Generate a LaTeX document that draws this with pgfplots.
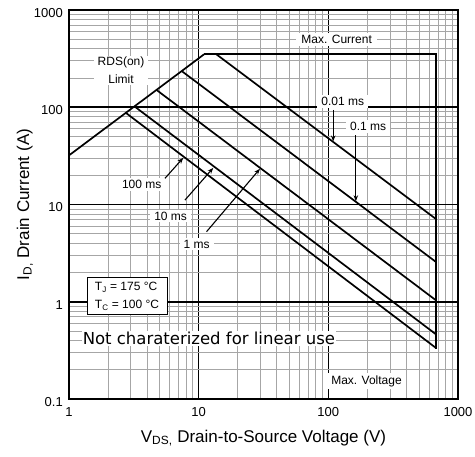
\documentclass[border=0pt]{standalone}
\usepackage{pgfplots}
\pgfplotsset{compat=1.18}
\usetikzlibrary{arrows.meta}
\usepackage{fontspec}
\setmainfont{Liberation Sans}
\newfontfamily\dejavu{DejaVu Sans}
\tikzset{curve/.style={black, solid, line width=1.7pt, mark=none}}
\begin{document}
\begin{tikzpicture}
\useasboundingbox (-69pt,-58pt) rectangle (406pt,399pt);
\begin{axis}[
  at={(0,0)}, anchor=south west,
  scale only axis, width=389pt, height=389pt,
  xmode=log, ymode=log,
  xmin=1, xmax=1000, ymin=0.1, ymax=1000,
  xtick={1,10,100,1000}, xticklabels={1,10,100,1000},
  ytick={0.1,1,10,100,1000}, yticklabels={0.1,1,10,100,1000},
  minor xtick={2,3,4,5,6,7,8,9,20,30,40,50,60,70,80,90,200,300,400,500,600,700,800,900},
  minor ytick={0.2,0.3,0.4,0.5,0.6,0.7,0.8,0.9,2,3,4,5,6,7,8,9,20,30,40,50,60,70,80,90,200,300,400,500,600,700,800,900},
  grid=both,
  major grid style={black, line width=1.6pt},
  minor grid style={black!35, line width=0.8pt},
  major tick length=0pt, minor tick length=0pt,
  axis line style={black, line width=1.5pt},
  ticklabel style={font=\fontsize{13}{15}\selectfont},
  xticklabel style={anchor=center, yshift=-13pt},
  yticklabel style={anchor=east, xshift=-2.7pt, yshift=-3pt},
  xlabel={V\textsubscript{DS,} Drain-to-Source Voltage (V)},
  ylabel={I\textsubscript{D,} Drain Current (A)},
  xlabel style={font=\fontsize{17}{20}\selectfont, at={(axis description cs:0.5,-0.1)}, anchor=center},
  ylabel style={font=\fontsize{17}{20}\selectfont, at={(axis description cs:-0.113,0.5)}, anchor=center},
]
% RDS(on) limit
\addplot[curve] coordinates {(1,32) (11,350)};
% Max current and max voltage
\addplot[curve] coordinates {(11,350) (680,350) (680,0.33)};
% 0.01 ms
\addplot[curve] coordinates {(13.7,350) (680,7.05)};
% 0.1 ms
\addplot[curve] coordinates {(7.39,236) (680,2.55)};
% 1 ms
\addplot[curve] coordinates {(4.72,151) (680,1.03)};
% 10 ms
\addplot[curve] coordinates {(3.2,102) (680,0.46)};
% 100 ms
\addplot[curve] coordinates {(2.74,87.7) (680,0.333)};

% arrows
\draw[-{Stealth[length=6pt,width=4.5pt]}, line width=1.1pt] (axis cs:5.5,18.6) -- (axis cs:7.61,30.2);
\draw[-{Stealth[length=6pt,width=4.5pt]}, line width=1.1pt] (axis cs:7.84,11.1) -- (axis cs:12.96,23.8);
\draw[-{Stealth[length=6pt,width=4.5pt]}, line width=1.1pt] (axis cs:11.5,5.25) -- (axis cs:29.7,23.3);
\draw[-{Stealth[length=6pt,width=4.5pt]}, line width=1.1pt] (axis cs:109,93.7) -- (axis cs:109,44.5);
\draw[-{Stealth[length=6pt,width=4.5pt]}, line width=1.1pt] (axis cs:163,51.8) -- (axis cs:163,10.8);

% labels
\node[fill=white, inner xsep=4pt, inner ysep=1pt, font=\fontsize{12}{17.6}\selectfont, align=center] at (axis cs:2.52,239) {RDS(on)\\Limit};
\node[fill=white, inner xsep=5pt, inner ysep=2pt, font=\fontsize{12}{14}\selectfont] at (axis cs:116,500) {Max. Current};
\node[fill=white, inner xsep=4pt, inner ysep=2pt, font=\fontsize{12}{14}\selectfont] at (axis cs:129,114) {0.01 ms};
\node[fill=white, inner xsep=4pt, inner ysep=2pt, font=\fontsize{12}{14}\selectfont] at (axis cs:203,63.1) {0.1 ms};
\node[fill=white, inner xsep=3pt, inner ysep=2pt, font=\fontsize{12}{14}\selectfont] at (axis cs:3.64,16.1) {100 ms};
\node[fill=white, inner xsep=4pt, inner ysep=2pt, font=\fontsize{12}{14}\selectfont] at (axis cs:6.08,7.62) {10 ms};
\node[fill=white, inner xsep=4pt, inner ysep=2pt, font=\fontsize{12}{14}\selectfont] at (axis cs:9.65,3.93) {1 ms};
\node[fill=white, inner xsep=4pt, inner ysep=2pt, font=\fontsize{12}{14}\selectfont] at (axis cs:197,0.153) {Max. Voltage};
\node[draw=black, line width=0.8pt, fill=white, inner xsep=8pt, inner ysep=4pt, font=\fontsize{12}{18.5}\selectfont, align=left] at (axis cs:2.80,1.14) {T\textsubscript{J} = 175 °C\\T\textsubscript{C} = 100 °C};
\node[fill=white, inner xsep=1pt, inner ysep=1pt, font=\dejavu\fontsize{16.5}{18}\selectfont] at (axis cs:11.99,0.417) {Not charaterized for linear use};
\end{axis}
\end{tikzpicture}
\end{document}
